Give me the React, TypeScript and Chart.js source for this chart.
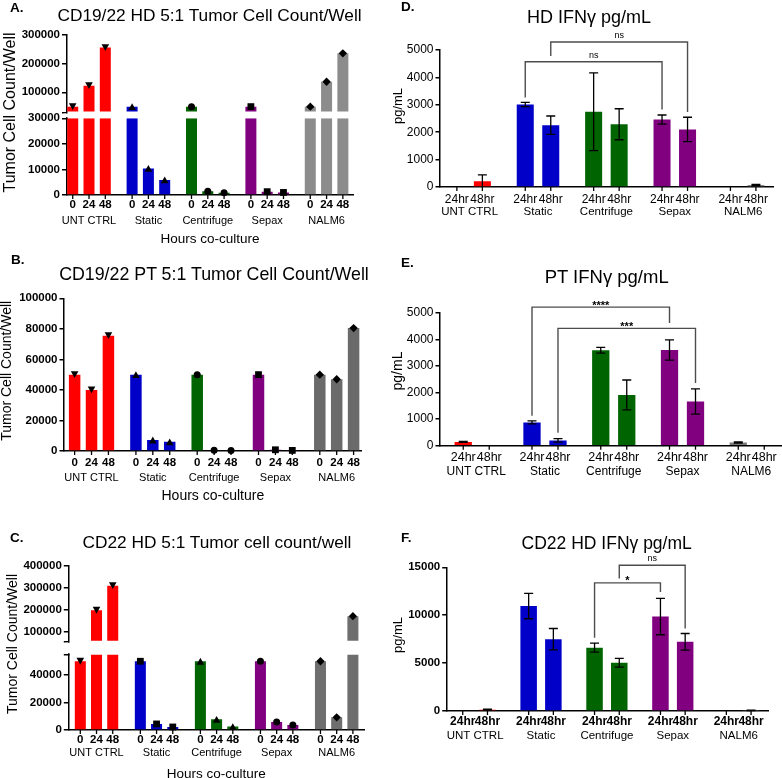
import React, { useEffect, useRef } from 'react';
import { Chart, registerables } from 'chart.js';

Chart.register(...registerables);

const FONT = '"Liberation Sans", Arial, Helvetica, sans-serif';

// ---------- shared categories / labels ----------
const GROUPS = ['UNT CTRL', 'Static', 'Centrifuge', 'Sepax', 'NALM6'];
const COUNT_HOURS = ['0', '24', '48'];
const IFN_HOURS = ['24hr', '48hr'];

// ---------- A: CD19/22 HD 5:1 tumor cell count ----------
const A_HOUR0 = [50000, 50000, 50000, 50000, 50000];
const A_HOUR24 = [123000, 10400, 1500, 1300, 137000];
const A_HOUR48 = [256000, 5900, 900, 1000, 236000];
const A_UPPER_TICKS = [100000, 200000, 300000];
const A_LOWER_TICKS = [0, 10000, 20000, 30000];
const A_COLORS = ['#ff0000', '#0000c8', '#006400', '#800080', '#8c8c8c'];
const A_MARKERS = ['triDown', 'tri', 'circle', 'square', 'diamond'];

// ---------- B: CD19/22 PT 5:1 tumor cell count ----------
const B_HOUR0 = [50000, 50000, 50000, 50000, 50000];
const B_HOUR24 = [40000, 7200, 500, 800, 47000];
const B_HOUR48 = [75500, 6000, 300, 400, 80500];
const B_TICKS = [0, 20000, 40000, 60000, 80000, 100000];
const B_COLORS = ['#ff0000', '#0000c8', '#006400', '#800080', '#6a6a6a'];
const B_MARKERS = ['triDown', 'tri', 'circle', 'square', 'diamond'];

// ---------- C: CD22 HD 5:1 tumor cell count ----------
const C_HOUR0 = [50000, 50000, 50000, 50000, 50000];
const C_HOUR24 = [198000, 4400, 7800, 5800, 9200];
const C_HOUR48 = [310000, 2200, 2500, 3700, 171000];
const C_UPPER_TICKS = [100000, 200000, 300000, 400000];
const C_LOWER_TICKS = [0, 20000, 40000, 55000];
const C_LOWER_LABELED = [0, 20000, 40000];
const C_COLORS = ['#ff0000', '#0000c8', '#006400', '#800080', '#6e6e6e'];
const C_MARKERS = ['triDown', 'square', 'tri', 'circle', 'diamond'];

// ---------- D: HD IFNγ ----------
const D_24 = [0, 3010, 2745, 2463, 0];
const D_24_ERR = [0, 75, 1420, 165, 0];
const D_48 = [210, 2256, 2290, 2100, 70];
const D_48_ERR = [230, 335, 565, 445, 25];
const D_TICKS = [0, 1000, 2000, 3000, 4000, 5000];
const D_COLORS = ['#ff0000', '#0000c8', '#006400', '#800080', '#808080'];
const D_BRACKETS = [
  { from: [1, 0], to: [3, 0], level: 4570, fromEnd: 3270, toEnd: 2830, label: 'ns' },
  { from: [1, 1], to: [3, 1], level: 5290, fromEnd: 4780, toEnd: 2740, label: 'ns' },
];

// ---------- E: PT IFNγ ----------
const E_24 = [140, 875, 3590, 3600, 120];
const E_24_ERR = [18, 55, 110, 380, 20];
const E_48 = [0, 200, 1910, 1660, 0];
const E_48_ERR = [0, 65, 560, 475, 0];
const E_TICKS = [0, 1000, 2000, 3000, 4000, 5000];
const E_COLORS = ['#ff0000', '#0000c8', '#006400', '#800080', '#7a7a7a'];
const E_BRACKETS = [
  { from: [1, 0], to: [3, 0], level: 5210, fromEnd: 1125, toEnd: 4610, label: '****' },
  { from: [1, 1], to: [3, 1], level: 4410, fromEnd: 490, toEnd: 2360, label: '***' },
];

// ---------- F: CD22 HD IFNγ ----------
const F_24 = [0, 10950, 6610, 9860, 0];
const F_24_ERR = [0, 1320, 465, 1900, 0];
const F_48 = [140, 7500, 5030, 7220, 60];
const F_48_ERR = [50, 1110, 455, 870, 30];
const F_TICKS = [0, 5000, 10000, 15000];
const F_COLORS = ['#ff0000', '#0000c8', '#006400', '#800080', '#8a8a8a'];
const F_BRACKETS = [
  { from: [2, 0], to: [3, 0], level: 13370, fromEnd: 7640, toEnd: 12430, label: '*' },
  { from: [2, 1], to: [3, 1], level: 15210, fromEnd: 13820, toEnd: 8610, label: 'ns' },
];

// ---------- panel specs (layout + references to data) ----------
const SPECS: any[] = [
  {
    key: 'A', letter: 'A.', letterPos: [10, 7.5],
    title: 'CD19/22 HD 5:1 Tumor Cell Count/Well', titlePos: [209.5, 15], titleSize: 17.3,
    box: { left: 0, top: 0, width: 400, height: 250 },
    area: { l: 66.5, r: 353.3, t: 35, b: 195 },
    xMin: -0.379, xMax: 4.45, catPct: 0.823, barPct: 0.675,
    series: [A_HOUR0, A_HOUR24, A_HOUR48], colors: A_COLORS, markers: A_MARKERS,
    hourLabels: COUNT_HOURS, hourFont: ['bold', 11.5], hourOffset: 10,
    groupFont: ['normal', 11], groupOffset: 25.5,
    xTitle: { text: 'Hours co-culture', size: 13.5, pad: 2.9 },
    yTitle: { text: 'Tumor Cell Count/Well', x: 11, y: 112.5, size: 16 },
    yTickFont: ['bold', 11.5],
    broken: {
      lowMax: 30000, lowTicks: A_LOWER_TICKS, lowLabeled: A_LOWER_TICKS, lowWeight: 76.7,
      upMin: 9250, upMax: 300000, upBase: 30000, upTicks: A_UPPER_TICKS, upWeight: 83.3,
    },
  },
  {
    key: 'B', letter: 'B.', letterPos: [11, 260],
    title: 'CD19/22 PT 5:1 Tumor Cell Count/Well', titlePos: [214, 274], titleSize: 17.8,
    box: { left: 0, top: 250, width: 400, height: 255 },
    area: { l: 64, r: 361.7, t: 298.3, b: 451 },
    xMin: -0.449, xMax: 4.408, catPct: 0.827, barPct: 0.68,
    series: [B_HOUR0, B_HOUR24, B_HOUR48], colors: B_COLORS, markers: B_MARKERS,
    hourLabels: COUNT_HOURS, hourFont: ['bold', 11.5], hourOffset: 11.7,
    groupFont: ['normal', 11], groupOffset: 26.7,
    xTitle: { text: 'Hours co-culture', size: 14, pad: 0.6 },
    yTitle: { text: 'Tumor Cell Count/Well', x: 7.5, y: 370.8, size: 14 },
    yTickFont: ['bold', 11.5],
    yTicks: B_TICKS, yMax: 100000,
  },
  {
    key: 'C', letter: 'C.', letterPos: [10, 538],
    title: 'CD22 HD 5:1 Tumor cell count/well', titlePos: [217, 541.7], titleSize: 17.3,
    box: { left: 0, top: 505, width: 400, height: 280 },
    area: { l: 68.3, r: 364.3, t: 566, b: 730 },
    xMin: -0.47, xMax: 4.46, catPct: 0.81, barPct: 0.68,
    series: [C_HOUR0, C_HOUR24, C_HOUR48], colors: C_COLORS, markers: C_MARKERS,
    hourLabels: COUNT_HOURS, hourFont: ['bold', 11.5], hourOffset: 10,
    groupFont: ['normal', 11], groupOffset: 23.3,
    xTitle: { text: 'Hours co-culture', size: 13.5, pad: 2.9 },
    yTitle: { text: 'Tumor Cell Count/Well', x: 13, y: 644, size: 14 },
    yTickFont: ['bold', 11.5],
    broken: {
      lowMax: 55000, lowTicks: C_LOWER_TICKS, lowLabeled: C_LOWER_LABELED, lowWeight: 75.6,
      upMin: -3650, upMax: 400000, upBase: 55000, upTicks: C_UPPER_TICKS, upWeight: 88.4,
    },
  },
  {
    key: 'D', letter: 'D.', letterPos: [401, 7],
    title: 'HD IFNγ pg/mL', titlePos: [589, 17], titleSize: 18,
    box: { left: 385, top: 0, width: 397, height: 250 },
    area: { l: 440, r: 773, t: 50, b: 187 },
    xMin: -0.433, xMax: 4.436, catPct: 0.746, barPct: 0.667,
    series: [D_24, D_48], errors: [D_24_ERR, D_48_ERR], colors: D_COLORS,
    hourLabels: IFN_HOURS, hourFont: ['normal', 12], hourOffset: 13,
    groupFont: ['normal', 11.5], groupOffset: 25.3,
    yTitle: { text: 'pg/mL', x: 398, y: 106, size: 13 },
    yTickFont: ['normal', 12],
    yTicks: D_TICKS, yMax: 5000, brackets: D_BRACKETS,
  },
  {
    key: 'E', letter: 'E.', letterPos: [401, 263],
    title: 'PT IFNγ pg/mL', titlePos: [606.7, 277.3], titleSize: 18.5,
    box: { left: 385, top: 250, width: 397, height: 260 },
    area: { l: 440, r: 782, t: 312.7, b: 445.7 },
    xMin: -0.527, xMax: 4.447, catPct: 0.756, barPct: 0.665,
    series: [E_24, E_48], errors: [E_24_ERR, E_48_ERR], colors: E_COLORS,
    hourLabels: IFN_HOURS, hourFont: ['normal', 12.5], hourOffset: 12.3,
    groupFont: ['normal', 12], groupOffset: 26,
    yTitle: { text: 'pg/mL', x: 398, y: 371, size: 14 },
    yTickFont: ['normal', 12],
    yTicks: E_TICKS, yMax: 5000, brackets: E_BRACKETS,
  },
  {
    key: 'F', letter: 'F.', letterPos: [401, 538],
    title: 'CD22 HD IFNγ pg/mL', titlePos: [606.7, 543.3], titleSize: 17.5,
    box: { left: 385, top: 510, width: 397, height: 268 },
    area: { l: 446.7, r: 768.3, t: 567.3, b: 711 },
    xMin: -0.431, xMax: 4.449, catPct: 0.75, barPct: 0.668,
    series: [F_24, F_48], errors: [F_24_ERR, F_48_ERR], colors: F_COLORS,
    hourLabels: IFN_HOURS, hourFont: ['bold', 12], hourOffset: 11,
    groupFont: ['normal', 11.5], groupOffset: 25,
    yTitle: { text: 'pg/mL', x: 398, y: 635, size: 13 },
    yTickFont: ['bold', 11.5],
    yTicks: F_TICKS, yMax: 15000, brackets: F_BRACKETS,
  },
];

function font(weight: string, size: number) {
  return `${weight} ${size}px ${FONT}`;
}

function drawMarker(ctx: CanvasRenderingContext2D, shape: string, x: number, y: number) {
  ctx.save();
  ctx.fillStyle = '#000';
  ctx.beginPath();
  if (shape === 'tri' || shape === 'triDown') {
    const w = 7.6, h = 6.8;
    const d = shape === 'tri' ? -1 : 1;
    ctx.moveTo(x, y + d * h / 2);
    ctx.lineTo(x + w / 2, y - d * h / 2);
    ctx.lineTo(x - w / 2, y - d * h / 2);
  } else if (shape === 'circle') {
    ctx.arc(x, y, 3.5, 0, Math.PI * 2);
  } else if (shape === 'square') {
    ctx.rect(x - 3.4, y - 3.4, 6.8, 6.8);
  } else {
    const r = 4.2;
    ctx.moveTo(x, y - r);
    ctx.lineTo(x + r, y);
    ctx.lineTo(x, y + r);
    ctx.lineTo(x - r, y);
  }
  ctx.closePath();
  ctx.fill();
  ctx.restore();
}

function drawErr(ctx: CanvasRenderingContext2D, x: number, yS: any, v: number, e: number) {
  const cap = 4.5;
  const lowVal = Math.max(v - e, yS.min);
  const pTop = yS.getPixelForValue(v + e);
  const pBot = yS.getPixelForValue(lowVal);
  ctx.save();
  ctx.strokeStyle = '#000';
  ctx.lineWidth = 1.3;
  ctx.beginPath();
  ctx.moveTo(x, pTop);
  ctx.lineTo(x, pBot);
  ctx.moveTo(x - cap, pTop);
  ctx.lineTo(x + cap, pTop);
  if (v - e > yS.min) {
    ctx.moveTo(x - cap, pBot);
    ctx.lineTo(x + cap, pBot);
  }
  ctx.stroke();
  ctx.restore();
}

function makeDecor(s: any) {
  return {
    id: 'decor' + s.key,
    afterDatasetsDraw(chart: any) {
      const ctx = chart.ctx;
      chart.data.datasets.forEach((ds: any, di: number) => {
        const meta = chart.getDatasetMeta(di);
        const yS = chart.scales[meta.yAxisID];
        meta.data.forEach((el: any, i: number) => {
          const v = ds.data[i].y;
          if (v === null || v === undefined) return;
          if (ds.errors && ds.errors[i] > 0) drawErr(ctx, el.x, yS, v, ds.errors[i]);
          if (s.markers && ds.showMarker[i]) drawMarker(ctx, s.markers[i], el.x, el.y);
        });
      });
    },
    afterDraw(chart: any) {
      const ctx = chart.ctx;
      const area = chart.chartArea;
      const xS = chart.scales.x;
      ctx.save();
      // axis break gap
      if (s.broken) {
        const yU = chart.scales.yU;
        const yL = chart.scales.y;
        const top = yU.getPixelForValue(s.broken.upBase) + 1.2;
        const bot = yL.getPixelForValue(s.broken.lowMax) - 1.2;
        ctx.fillStyle = '#fff';
        ctx.fillRect(area.left - 3, top, 6, bot - top);
      }
      // x-axis bar labels, tick marks, group names
      ctx.textAlign = 'center';
      ctx.textBaseline = 'middle';
      ctx.fillStyle = '#000';
      ctx.strokeStyle = '#000';
      ctx.lineWidth = 1.3;
      chart.data.datasets.forEach((ds: any, di: number) => {
        if (ds.role !== 'main') return;
        const meta = chart.getDatasetMeta(di);
        meta.data.forEach((el: any) => {
          ctx.beginPath();
          ctx.moveTo(el.x, area.bottom);
          ctx.lineTo(el.x, area.bottom + 4);
          ctx.stroke();
          ctx.font = font(s.hourFont[0], s.hourFont[1]);
          ctx.fillText(s.hourLabels[ds.hour], el.x, area.bottom + s.hourOffset);
        });
      });
      ctx.font = font(s.groupFont[0], s.groupFont[1]);
      GROUPS.forEach((g, i) => {
        ctx.fillText(g, xS.getPixelForValue(i), area.bottom + s.groupOffset);
      });
      // y-axis title
      ctx.save();
      ctx.translate(s.yTitle.x - s.box.left, s.yTitle.y - s.box.top);
      ctx.rotate(-Math.PI / 2);
      ctx.font = font('normal', s.yTitle.size);
      ctx.fillText(s.yTitle.text, 0, 0);
      ctx.restore();
      // significance brackets
      if (s.brackets) {
        const yS = chart.scales.y;
        const barX = (g: number, t: number) => {
          const di = chart.data.datasets.findIndex((d: any) => d.role === 'main' && d.hour === t);
          return chart.getDatasetMeta(di).data[g].x;
        };
        s.brackets.forEach((b: any) => {
          const xa = barX(b.from[0], b.from[1]);
          const xb = barX(b.to[0], b.to[1]);
          const yl = yS.getPixelForValue(b.level);
          ctx.strokeStyle = '#4d4d4d';
          ctx.lineWidth = 1.4;
          ctx.beginPath();
          ctx.moveTo(xa, yS.getPixelForValue(b.fromEnd));
          ctx.lineTo(xa, yl);
          ctx.lineTo(xb, yl);
          ctx.lineTo(xb, yS.getPixelForValue(b.toEnd));
          ctx.stroke();
          const isNs = b.label === 'ns';
          ctx.font = isNs ? font('normal', 9) : font('bold', 11);
          ctx.textBaseline = 'alphabetic';
          ctx.fillStyle = '#000';
          ctx.fillText(b.label, (xa + xb) / 2, yl + (isNs ? -4 : 1.5));
        });
      }
      ctx.restore();
    },
  };
}

function makeConfig(s: any): any {
  const br = s.broken;
  const lowMax = br ? br.lowMax : Infinity;
  const datasets: any[] = [];
  s.series.forEach((vals: number[], t: number) => {
    const common = {
      type: 'bar',
      stack: 'h' + t,
      backgroundColor: s.colors,
      borderWidth: 0,
      categoryPercentage: s.catPct,
      barPercentage: s.barPct,
      hour: t,
    };
    datasets.push({
      ...common,
      role: 'main',
      yAxisID: 'y',
      data: vals.map((v, i) => ({ x: i, y: Math.min(v, lowMax) })),
      showMarker: vals.map((v) => v <= lowMax),
      errors: s.errors ? s.errors[t] : null,
    });
    if (br) {
      datasets.push({
        ...common,
        role: 'upper',
        yAxisID: 'yU',
        base: br.upBase,
        data: vals.map((v, i) => ({ x: i, y: v > lowMax ? v : null })),
        showMarker: vals.map((v) => v > lowMax),
        errors: null,
      });
    }
  });

  const yAxis = (ticksList: number[], labeled: number[], extra: any) => ({
    type: 'linear',
    position: 'left',
    stacked: false,
    ...extra,
    afterFit: (sc: any) => {
      sc.width = s.area.l - s.box.left;
    },
    afterBuildTicks: (sc: any) => {
      sc.ticks = ticksList.map((v) => ({ value: v }));
    },
    grid: { drawOnChartArea: false, drawTicks: true, tickLength: 4.5, color: '#000', lineWidth: 1.5 },
    border: { display: true, color: '#000', width: 1.5 },
    ticks: {
      autoSkip: false,
      padding: 2,
      color: '#000',
      font: { family: FONT, size: s.yTickFont[1], weight: s.yTickFont[0] },
      callback: (v: number) => (labeled.indexOf(v) >= 0 ? String(v) : ''),
    },
  });

  const scales: any = {
    x: {
      type: 'linear',
      min: s.xMin,
      max: s.xMax,
      stacked: true,
      offset: false,
      afterBuildTicks: (sc: any) => {
        sc.ticks = GROUPS.map((_, i) => ({ value: i }));
      },
      afterFit: (sc: any) => {
        sc.height = s.box.top + s.box.height - s.area.b;
      },
      grid: { display: false },
      border: { display: true, color: '#000', width: 1.5 },
      ticks: { display: false },
      title: s.xTitle
        ? {
            display: true,
            text: s.xTitle.text,
            color: '#000',
            font: { family: FONT, size: s.xTitle.size },
            padding: { top: 0, bottom: s.xTitle.pad },
          }
        : { display: false },
    },
  };
  if (br) {
    scales.y = yAxis(br.lowTicks, br.lowLabeled, { min: 0, max: br.lowMax, stack: 'brk', stackWeight: br.lowWeight });
    scales.yU = yAxis([br.upBase, ...br.upTicks], br.upTicks, {
      min: br.upMin,
      max: br.upMax,
      stack: 'brk',
      stackWeight: br.upWeight,
    });
  } else {
    scales.y = yAxis(s.yTicks, s.yTicks, { min: 0, max: s.yMax });
  }

  return {
    type: 'bar',
    data: { datasets },
    options: {
      responsive: false,
      maintainAspectRatio: false,
      animation: false,
      devicePixelRatio: 1,
      events: [],
      layout: {
        autoPadding: false,
        padding: {
          top: s.area.t - s.box.top,
          right: s.box.left + s.box.width - s.area.r,
          left: 0,
          bottom: 0,
        },
      },
      plugins: {
        legend: { display: false },
        tooltip: { enabled: false },
        title: { display: false },
      },
      scales,
    },
    plugins: [makeDecor(s)],
  };
}

function Panel({ s }: { s: any }) {
  const ref = useRef<HTMLCanvasElement>(null);
  useEffect(() => {
    const chart = new Chart(ref.current as HTMLCanvasElement, makeConfig(s));
    return () => chart.destroy();
  }, [s]);
  const lh = 24;
  return (
    <>
      <canvas
        ref={ref}
        width={s.box.width}
        height={s.box.height}
        style={{
          position: 'absolute',
          left: s.box.left,
          top: s.box.top,
          width: s.box.width,
          height: s.box.height,
        }}
      />
      <div
        style={{
          position: 'absolute',
          left: s.titlePos[0] - 200,
          top: s.titlePos[1] - lh / 2,
          width: 400,
          height: lh,
          lineHeight: lh + 'px',
          textAlign: 'center',
          fontFamily: FONT,
          fontSize: s.titleSize,
          color: '#000',
          whiteSpace: 'nowrap',
        }}
      >
        {s.title}
      </div>
      <div
        style={{
          position: 'absolute',
          left: s.letterPos[0],
          top: s.letterPos[1] - 9,
          height: 18,
          lineHeight: '18px',
          fontFamily: FONT,
          fontSize: 13.5,
          fontWeight: 'bold',
          color: '#000',
          whiteSpace: 'nowrap',
        }}
      >
        {s.letter}
      </div>
    </>
  );
}

export default function App() {
  return (
    <div
      style={{
        position: 'absolute',
        left: 0,
        top: 0,
        width: 782,
        height: 778,
        overflow: 'hidden',
        background: '#fff',
      }}
    >
      {SPECS.map((s) => (
        <Panel key={s.key} s={s} />
      ))}
    </div>
  );
}
